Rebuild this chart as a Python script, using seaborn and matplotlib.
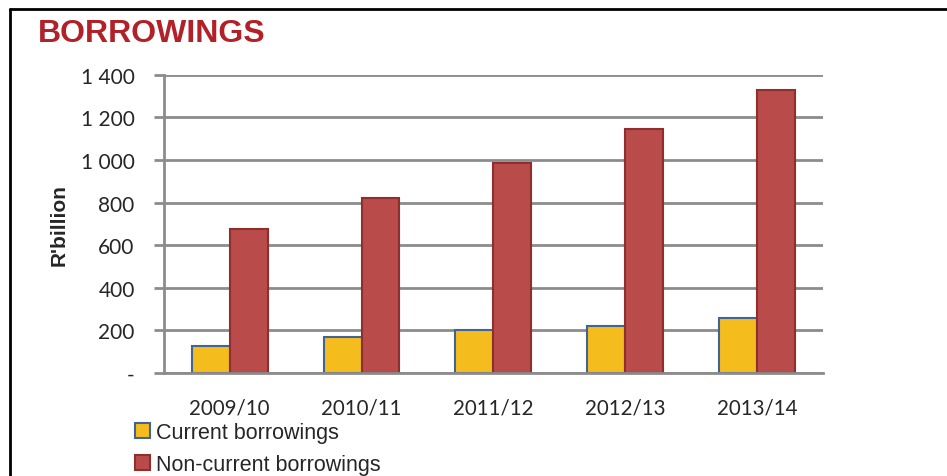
import pandas as pd
import matplotlib.pyplot as plt
import seaborn as sns
from matplotlib.lines import Line2D
from matplotlib.ticker import FuncFormatter

sns.set_theme(style="white")
plt.rcParams["font.family"] = ["Liberation Sans", "DejaVu Sans"]

years = ["2009/10", "2010/11", "2011/12", "2012/13", "2013/14"]
current = [127, 169, 202, 221, 258]
non_current = [676, 822, 986, 1146, 1329]
series = ["Current borrowings", "Non-current borrowings"]

df = pd.DataFrame({
    "year": years * 2,
    "value": current + non_current,
    "series": [series[0]] * len(years) + [series[1]] * len(years),
})

fills = {series[0]: "#F5BC1E", series[1]: "#B94C4A"}
edges = {series[0]: "#3F6496", series[1]: "#8E2F2D"}

fig = plt.figure(figsize=(9.47, 4.77), dpi=100)
ax = fig.add_axes([0.173, 0.216, 0.696, 0.625])

sns.barplot(data=df, x="year", y="value", hue="series", palette=fills,
            width=0.575, gap=0, saturation=1, legend=False, ax=ax)

for cont, s in zip(ax.containers, series):
    for p in cont:
        p.set_edgecolor(edges[s])
        p.set_linewidth(1.5)

ax.set_ylim(0, 1400)
ax.set_yticks(range(0, 1401, 200))
ax.yaxis.set_major_formatter(FuncFormatter(
    lambda v, pos: "-" if v == 0 else f"{int(v):,}".replace(",", " ")))
ax.grid(axis="y", color="#8C8C8C", linewidth=2)
ax.set_axisbelow(True)
for side in ["top", "right"]:
    ax.spines[side].set_visible(False)
ax.spines["left"].set_color("#8C8C8C")
ax.spines["left"].set_linewidth(2)
ax.spines["bottom"].set_color("#8C8C8C")
ax.spines["bottom"].set_linewidth(2)
ax.tick_params(axis="y", left=True, length=7, width=2, color="#8C8C8C",
               labelsize=15, pad=14)
ax.tick_params(axis="x", bottom=False, labelsize=14.8, pad=12)
for lab in ax.get_xticklabels() + ax.get_yticklabels():
    lab.set_family(["Lato", "DejaVu Sans"])
ax.set_xlabel("")
ax.set_ylabel("R'billion", fontsize=15, fontweight="bold", labelpad=9)

fig.text(0.040, 0.928, "BORROWINGS", color="#B22028", fontsize=23,
         fontweight="bold", ha="left", va="center")

handles = [cont.patches[0] for cont in ax.containers]
fig.legend(handles, series, loc="upper left", bbox_to_anchor=(0.143, 0.113),
           frameon=False, fontsize=15.5, handlelength=0.7, handleheight=0.7,
           handletextpad=0.25, labelspacing=0.5, borderaxespad=0, borderpad=0)

# outer frame of the slide box
fig.add_artist(Line2D([0.011, 0.011], [0.0, 0.979], color="black", linewidth=2,
                      transform=fig.transFigure))
fig.add_artist(Line2D([0.011, 1.0], [0.979, 0.979], color="black", linewidth=2,
                      transform=fig.transFigure))

fig.savefig("out.png", dpi=100)
